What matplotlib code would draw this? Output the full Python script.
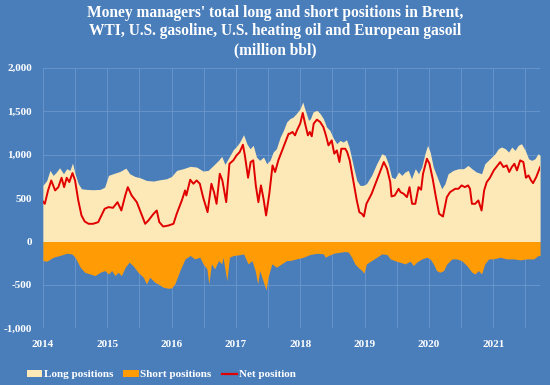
import matplotlib
matplotlib.use("Agg")
import matplotlib.pyplot as plt
from matplotlib.patches import Patch
from matplotlib.lines import Line2D

# ---------------- data (million bbl), x in decimal years ----------------
long_t = [2014.00, 2014.06, 2014.11, 2014.16, 2014.21, 2014.26, 2014.32, 2014.37, 2014.42, 2014.46,
          2014.50, 2014.55, 2014.60, 2014.68, 2014.78, 2014.89, 2014.96, 2015.02, 2015.09, 2015.20,
          2015.29, 2015.35, 2015.43, 2015.51, 2015.61, 2015.72, 2015.82, 2015.92, 2016.00, 2016.08,
          2016.18, 2016.29, 2016.39, 2016.49, 2016.57, 2016.65, 2016.73, 2016.78, 2016.83, 2016.91,
          2016.96, 2017.01, 2017.06, 2017.12, 2017.17, 2017.22, 2017.27, 2017.32, 2017.37, 2017.43,
          2017.48, 2017.53, 2017.58, 2017.63, 2017.69, 2017.74, 2017.79, 2017.84,
          2017.89, 2017.94, 2018.00, 2018.04, 2018.07, 2018.13, 2018.16, 2018.20, 2018.26, 2018.31,
          2018.36, 2018.41, 2018.46, 2018.52, 2018.57, 2018.62, 2018.67, 2018.72, 2018.76, 2018.83,
          2018.88, 2018.93, 2018.98, 2019.03, 2019.11, 2019.19, 2019.27, 2019.32, 2019.37, 2019.42,
          2019.47, 2019.53, 2019.58, 2019.63, 2019.68, 2019.73, 2019.79, 2019.84, 2019.89, 2019.94,
          2019.98, 2020.02, 2020.07, 2020.15, 2020.20, 2020.25, 2020.30, 2020.38, 2020.46, 2020.54,
          2020.61, 2020.67, 2020.74, 2020.82, 2020.87, 2020.95, 2021.03, 2021.08, 2021.13, 2021.19,
          2021.24, 2021.29, 2021.34, 2021.39, 2021.44, 2021.50, 2021.55, 2021.60, 2021.65, 2021.70,
          2021.73]
long_v = [646, 703, 819, 761, 800, 849, 780, 838, 819, 903,
          780, 665, 607, 600, 596, 600, 626, 761, 780, 807,
          845, 780, 749, 734, 703, 696, 711, 722, 749, 819,
          838, 865, 857, 811, 819, 876, 934, 980, 888, 991,
          1057, 1095, 1145, 1230, 1126, 1068, 1107, 972, 934, 972,
          895, 934, 1030, 1068, 1203, 1280, 1376, 1414,
          1433, 1472, 1530, 1606, 1530, 1395, 1414, 1491, 1510, 1472,
          1414, 1318, 1280, 1184, 1126, 1164, 1145, 1172, 1088, 857,
          703, 646, 646, 665, 761, 895, 1011, 991, 895, 742,
          722, 800, 761, 800, 819, 722, 838, 780, 857, 1011,
          1107, 1030, 857, 703, 607, 665, 780, 819, 838, 838,
          876, 838, 800, 780, 895, 953, 1011, 1068, 1088, 1068,
          1030, 1088, 1049, 1107, 1126, 1049, 953, 934, 953, 1011,
          991]

short_t = [2014.00, 2014.06, 2014.16, 2014.26, 2014.37, 2014.45, 2014.50, 2014.58, 2014.65, 2014.73,
           2014.81, 2014.89, 2014.96, 2015.02, 2015.07, 2015.12, 2015.17, 2015.22, 2015.28, 2015.34,
           2015.40, 2015.48, 2015.56, 2015.61, 2015.66, 2015.74, 2015.79, 2015.87, 2015.95, 2016.00,
           2016.05, 2016.13, 2016.21, 2016.29, 2016.36, 2016.44, 2016.49, 2016.55, 2016.58, 2016.62,
           2016.67, 2016.73, 2016.78, 2016.80, 2016.86, 2016.90, 2016.96, 2017.04, 2017.12, 2017.19,
           2017.25, 2017.30, 2017.34, 2017.37, 2017.43, 2017.47, 2017.50, 2017.56, 2017.63, 2017.71,
           2017.79, 2017.84, 2017.94, 2018.05, 2018.15, 2018.26, 2018.36, 2018.39, 2018.44, 2018.52,
           2018.62, 2018.70, 2018.75, 2018.80, 2018.85, 2018.90, 2018.96, 2018.99, 2019.03, 2019.11,
           2019.19, 2019.27, 2019.35, 2019.40, 2019.47, 2019.55, 2019.63, 2019.71, 2019.76, 2019.81,
           2019.89, 2019.97, 2020.02, 2020.07, 2020.12, 2020.17, 2020.23, 2020.28, 2020.36, 2020.43,
           2020.51, 2020.59, 2020.67, 2020.72, 2020.77, 2020.82, 2020.87, 2020.93, 2021.00, 2021.11,
           2021.21, 2021.32, 2021.42, 2021.52, 2021.63, 2021.70, 2021.73]
short_v = [-219, -227, -181, -161, -135, -142, -181, -296, -354, -373,
           -392, -354, -334, -373, -334, -392, -354, -392, -296, -238,
           -277, -354, -411, -488, -411, -469, -488, -526, -538, -534,
           -488, -334, -200, -161, -200, -181, -257, -315, -488, -257,
           -315, -219, -257, -181, -450, -181, -161, -154, -142, -257,
           -219, -334, -488, -334, -469, -557, -411, -257, -296, -257,
           -219, -219, -200, -181, -150, -135, -142, -181, -161, -135,
           -123, -115, -123, -181, -257, -296, -334, -365, -257, -219,
           -181, -142, -150, -200, -219, -238, -257, -227, -277, -238,
           -200, -181, -200, -257, -334, -354, -334, -257, -200, -200,
           -219, -277, -354, -373, -334, -373, -257, -200, -200, -181,
           -200, -200, -211, -200, -200, -161, -161]

net_t = [2014.00, 2014.03, 2014.08, 2014.13, 2014.19, 2014.24, 2014.29, 2014.33, 2014.37, 2014.41,
         2014.46, 2014.50, 2014.55, 2014.60, 2014.65, 2014.71, 2014.78, 2014.86, 2014.91, 2014.96,
         2015.02, 2015.09, 2015.16, 2015.22, 2015.28, 2015.32, 2015.38, 2015.46, 2015.51, 2015.59,
         2015.64, 2015.72, 2015.77, 2015.81, 2015.87, 2015.95, 2016.03, 2016.08, 2016.16, 2016.21,
         2016.23, 2016.29, 2016.34, 2016.39, 2016.44, 2016.49, 2016.56, 2016.62, 2016.66, 2016.70,
         2016.75, 2016.79, 2016.85, 2016.90, 2016.96, 2017.01, 2017.06, 2017.11, 2017.14, 2017.19,
         2017.23, 2017.27, 2017.31, 2017.35, 2017.39, 2017.43, 2017.47, 2017.52, 2017.57, 2017.61,
         2017.66, 2017.71, 2017.76, 2017.82, 2017.84, 2017.88, 2017.92, 2017.95, 2018.00, 2018.04,
         2018.07, 2018.12, 2018.15, 2018.18, 2018.21, 2018.26, 2018.31, 2018.36, 2018.40, 2018.44,
         2018.49, 2018.53, 2018.57, 2018.61, 2018.64, 2018.70, 2018.73, 2018.77, 2018.83, 2018.88,
         2018.92, 2018.96, 2018.99, 2019.03, 2019.11, 2019.19, 2019.25, 2019.30, 2019.35, 2019.40,
         2019.42, 2019.47, 2019.53, 2019.56, 2019.61, 2019.66, 2019.70, 2019.74, 2019.79, 2019.84,
         2019.88, 2019.91, 2019.97, 2020.01, 2020.06, 2020.11, 2020.16, 2020.22, 2020.28, 2020.33,
         2020.41, 2020.46, 2020.51, 2020.56, 2020.61, 2020.64, 2020.67, 2020.72, 2020.77, 2020.82,
         2020.86, 2020.90, 2020.95, 2021.01, 2021.07, 2021.11, 2021.16, 2021.21, 2021.25, 2021.29,
         2021.33, 2021.37, 2021.42, 2021.47, 2021.51, 2021.55, 2021.59, 2021.62, 2021.67, 2021.73]
net_v = [460, 434, 588, 703, 588, 626, 734, 626, 734, 684,
         788, 703, 473, 300, 231, 204, 204, 223, 300, 377,
         396, 388, 453, 357, 530, 626, 530, 453, 357, 204,
         242, 319, 357, 223, 173, 184, 204, 319, 473, 588,
         530, 711, 665, 703, 665, 511, 338, 665, 569, 434,
         780, 703, 453, 895, 934, 991, 1030, 1114, 991, 734,
         915, 934, 646, 453, 646, 492, 300, 549, 876, 800,
         934, 1030, 1126, 1241, 1241, 1261, 1222, 1280, 1357, 1480,
         1376, 1222, 1261, 1211, 1357, 1403, 1376, 1318, 1222, 1107,
         1164, 1011, 1049, 915, 1068, 1068, 1030, 934, 684, 473,
         338, 319, 288, 434, 549, 703, 819, 915, 838, 684,
         519, 530, 607, 569, 549, 511, 626, 434, 434, 626,
         596, 780, 953, 895, 722, 511, 319, 288, 511, 569,
         607, 607, 646, 626, 646, 607, 434, 434, 473, 357,
         588, 684, 734, 819, 876, 915, 857, 876, 800, 857,
         895, 819, 934, 915, 734, 761, 703, 672, 742, 857]

year_ticks = [2014, 2015, 2016, 2017, 2018, 2019, 2020, 2021]
year_labels = ["2014", "2015", "2016", "2017", "2018", "2019", "2020", "2021"]
y_ticks = [-1000, -500, 0, 500, 1000, 1500, 2000]
title_text = ("Money managers' total long and short positions in Brent,\n"
              "WTI, U.S. gasoline, U.S. heating oil and European gasoil\n"
              "(million bbl)")
legend_labels = ["Long positions", "Short positions", "Net position"]

# ---------------- style ----------------
BG = "#4A7EBB"
GRID = "#6B97CB"
LONG_C = "#FDE9B8"
SHORT_C = "#FF9B05"
NET_C = "#E00000"
FONT = ["Liberation Serif", "DejaVu Serif"]

plt.rcParams["font.family"] = FONT
plt.rcParams["font.weight"] = "bold"

fig = plt.figure(figsize=(5.5, 3.85), dpi=100, facecolor=BG)
ax = fig.add_axes([0.078, 0.147, 0.904, 0.677])
ax.set_facecolor(BG)

ax.fill_between(long_t, 0, long_v, color=LONG_C, linewidth=0, zorder=2)
ax.fill_between(short_t, short_v, 0, color=SHORT_C, linewidth=0, zorder=2)
ax.plot(net_t, net_v, color=NET_C, linewidth=1.4, zorder=3)

ax.set_xlim(2014.0, 2021.73)
ax.set_ylim(-1000, 2000)
ax.set_yticks(y_ticks)
ax.set_yticklabels([f"{v:,}" for v in y_ticks])
ax.set_xticks(year_ticks)
ax.set_xticklabels(year_labels)
ax.set_xticks([y + 0.5 for y in year_ticks], minor=True)
ax.grid(True, which="both", color=GRID, linewidth=0.6, zorder=0)
ax.set_axisbelow(True)
for s in ax.spines.values():
    s.set_visible(False)
ax.tick_params(axis="both", which="both", length=0, colors="white", labelsize=8)
ax.tick_params(axis="x", pad=8)
ax.tick_params(axis="y", pad=8)
for lab in ax.get_xticklabels() + ax.get_yticklabels():
    lab.set_fontweight("bold")

fig.text(0.5, 0.988, title_text, ha="center", va="top", color="white",
         fontsize=11.2, fontweight="bold", linespacing=1.22)

handles = [Patch(facecolor=LONG_C, edgecolor="none"),
           Patch(facecolor=SHORT_C, edgecolor="none"),
           Line2D([0], [0], color=NET_C, linewidth=1.6)]
leg = fig.legend(handles, legend_labels, loc="center left", bbox_to_anchor=(0.03, 0.027),
                 ncol=3, frameon=False, fontsize=8, handlelength=1.4, handleheight=0.7,
                 handletextpad=0.15, columnspacing=0.9, labelcolor="white")
for t in leg.get_texts():
    t.set_fontweight("bold")

fig.savefig("out.png", dpi=100, facecolor=BG)
